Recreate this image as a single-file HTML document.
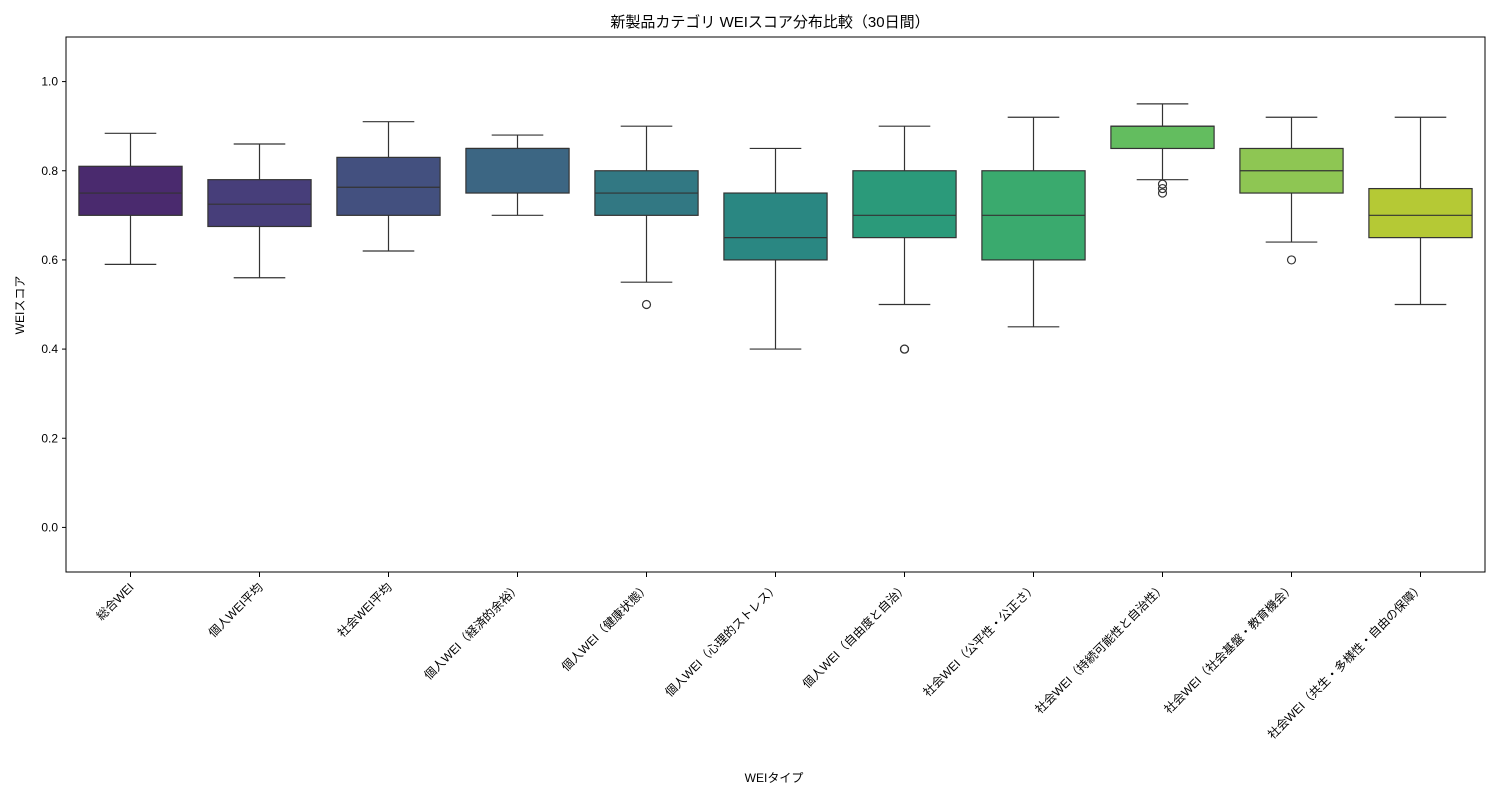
<!DOCTYPE html>
<html><head><meta charset="utf-8"><style>
body{margin:0;background:#fff;}
svg text{font-family:"Liberation Sans","Noto Sans CJK JP",sans-serif;fill:#000;}
</style></head><body>
<svg id="chart" width="1500" height="800">
<rect width="1500" height="800" fill="#fff"/>
<text x="770" y="27" font-size="15" text-anchor="middle">新製品カテゴリ WEIスコア分布比較（30日間）</text>
<g id="plot"></g>
<rect x="66" y="37" width="1419" height="535" fill="none" stroke="#000" stroke-width="1"/>
<text x="0" y="0" font-size="12" text-anchor="middle" transform="translate(24,305) rotate(-90)">WEIスコア</text>
<text x="774" y="782" font-size="12" text-anchor="middle">WEIタイプ</text>
</svg>
<script>
const categories=["総合WEI","個人WEI平均","社会WEI平均","個人WEI（経済的余裕）","個人WEI（健康状態）","個人WEI（心理的ストレス）","個人WEI（自由度と自治）","社会WEI（公平性・公正さ）","社会WEI（持続可能性と自治性）","社会WEI（社会基盤・教育機会）","社会WEI（共生・多様性・自由の保障）"];
const whiskerLow=[0.59,0.56,0.62,0.70,0.55,0.40,0.50,0.45,0.78,0.64,0.50];
const q1=[0.70,0.675,0.70,0.75,0.70,0.60,0.65,0.60,0.85,0.75,0.65];
const medians=[0.75,0.725,0.763,0.85,0.75,0.65,0.70,0.70,0.90,0.80,0.70];
const q3=[0.81,0.78,0.83,0.85,0.80,0.75,0.80,0.80,0.90,0.85,0.76];
const whiskerHigh=[0.884,0.86,0.91,0.88,0.90,0.85,0.90,0.92,0.95,0.92,0.92];
const outliers=[[],[],[],[],[0.50],[],[0.40,0.40],[],[0.77,0.76,0.75],[0.60],[]];
const yTicks=[0.0,0.2,0.4,0.6,0.8,1.0];
const colors=["#4a2a6e","#473e7a","#43507f","#3c6683","#327883","#2a8782","#2b9a7a","#3aaa6e","#63bd5f","#8ec653","#b5c935"];
const X0=66,X1=1485,Y0=37,Y1=572,VMIN=-0.1,VMAX=1.1;
const yS=v=>Y1-(v-VMIN)/(VMAX-VMIN)*(Y1-Y0);
const step=(X1-X0)/categories.length;
const xS=i=>X0+step*(i+0.5);
const NS="http://www.w3.org/2000/svg";
const g=document.getElementById('plot');
function mk(t,a){const e=document.createElementNS(NS,t);for(const k in a)e.setAttribute(k,a[k]);g.appendChild(e);return e;}
yTicks.forEach(v=>{
 const l=mk('line',{x1:X0-4,x2:X0,y1:yS(v),y2:yS(v),stroke:'#000'});
 
 
 const t=mk('text',{x:X0-8,y:yS(v)+4,'font-size':12,'text-anchor':'end'});
 t.textContent=v.toFixed(1);
 
 
});
const bw=step*0.8;
categories.forEach((c,i)=>{
 const x=xS(i);
 const w1=mk('line',{x1:x,x2:x,y1:yS(whiskerLow[i]),y2:yS(q1[i]),stroke:'#333','stroke-width':1.2});
 
 
 const w2=mk('line',{x1:x,x2:x,y1:yS(q3[i]),y2:yS(whiskerHigh[i]),stroke:'#333','stroke-width':1.2});
 
 
 const c1=mk('line',{x1:x-bw/4,x2:x+bw/4,y1:yS(whiskerLow[i]),y2:yS(whiskerLow[i]),stroke:'#333','stroke-width':1.2});
 
 
 const c2=mk('line',{x1:x-bw/4,x2:x+bw/4,y1:yS(whiskerHigh[i]),y2:yS(whiskerHigh[i]),stroke:'#333','stroke-width':1.2});
 
 
 const b=mk('rect',{x:x-bw/2,y:yS(q3[i]),width:bw,height:Math.max(0,yS(q1[i])-yS(q3[i])),fill:colors[i],stroke:'#333','stroke-width':1.2});
 
 
 const m=mk('line',{x1:x-bw/2,x2:x+bw/2,y1:yS(medians[i]),y2:yS(medians[i]),stroke:'#333','stroke-width':1.2});
 
 
 outliers[i].forEach(o=>{
  const p=mk('circle',{cx:x,cy:yS(o),r:4,fill:'none',stroke:'#333','stroke-width':1.2});
  
  
 });
 const t=mk('line',{x1:x,x2:x,y1:Y1,y2:Y1+5,stroke:'#000'});
 
 
 const lb=mk('text',{x:0,y:0,'font-size':12,'text-anchor':'end',transform:`translate(${x+4},${Y1+16}) rotate(-45)`});
 lb.textContent=c;
 
 
});
</script>
</body></html>
